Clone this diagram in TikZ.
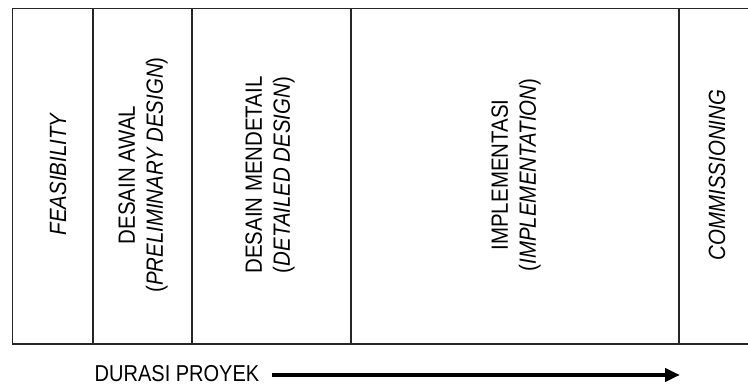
\documentclass[tikz,border=0pt]{standalone}
\usepackage{fontspec}
% narrow grotesque look: Arial metrics squeezed horizontally
\setmainfont{Liberation Sans}[FakeStretch=0.87]
\usetikzlibrary{arrows.meta}

\begin{document}
\begin{tikzpicture}[x=1pt,y=-1pt,
    frame/.style={draw=black!85,line width=1.4pt},
    phase/.style={rotate=90,align=center,inner sep=0pt,
      font=\fontsize{23.5}{28}\selectfont},
    caption/.style={inner sep=0pt,font=\fontsize{23}{26}\selectfont},
    timearrow/.style={line width=4pt,-{Triangle[length=15pt,width=13pt]}}]
  % page area; the last column runs past the right edge
  \clip (0,0) rectangle (748,387);

  % table of project phases
  \draw[frame] (12.5,8.5) rectangle (770,344);
  \foreach \xx in {93,192,351,679}
    \draw[frame] (\xx,8.5) -- (\xx,344);

  % phase labels, read bottom to top
  \node[phase] (feas) at (58,174) {\textit{FEASIBILITY}};
  \node[phase] (awal) at (143,175) {DESAIN AWAL\\(\textit{PRELIMINARY DESIGN})};
  \node[phase] (detail) at (270,175) {DESAIN MENDETAIL\\(\textit{DETAILED DESIGN})};
  \node[phase] (impl) at (516,175) {IMPLEMENTASI\\(\textit{IMPLEMENTATION})};
  \node[phase] (comm) at (717,175) {\textit{COMMISSIONING}};

  % project duration axis
  \node[caption] (durasi) at (177,374) {DURASI PROYEK};
  \coordinate (akhir) at (680,375);
  \draw[timearrow] (durasi.east |- akhir) ++(13,0) -- (akhir);
\end{tikzpicture}
\end{document}
